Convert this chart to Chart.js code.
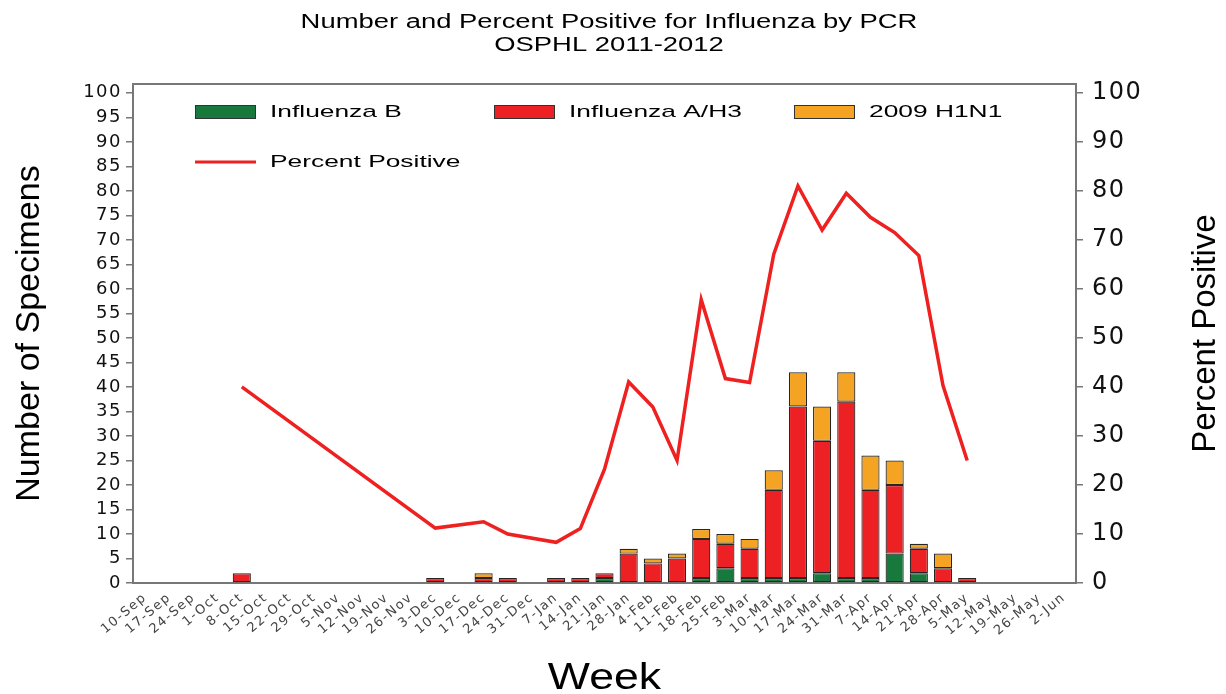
<!DOCTYPE html>
<html>
<head>
<meta charset="utf-8">
<script src="https://cdn.jsdelivr.net/npm/chart.js@4.4.0/dist/chart.umd.min.js"></script>
<style>
  html, body { margin: 0; padding: 0; background: #fff; }
  #wrap { width: 1226px; height: 694px; position: relative; }
</style>
</head>
<body>
<div id="wrap"><canvas id="c" width="1226" height="694"></canvas></div>
<script>
const weeks = ['10-Sep','17-Sep','24-Sep','1-Oct','8-Oct','15-Oct','22-Oct','29-Oct','5-Nov','12-Nov','19-Nov','26-Nov',
  '3-Dec','10-Dec','17-Dec','24-Dec','31-Dec','7-Jan','14-Jan','21-Jan','28-Jan','4-Feb','11-Feb','18-Feb','25-Feb',
  '3-Mar','10-Mar','17-Mar','24-Mar','31-Mar','7-Apr','14-Apr','21-Apr','28-Apr','5-May','12-May','19-May','26-May','2-Jun'];

const influenzaB = [null,null,null,null, null,null,null,null, null,null,null,null, null,null,null,null,
  null,null,null,1, null,null,null,1, 3,1,1,1, 2,1,1,6, 2,null,null,null, null,null,null];

const influenzaAH3 = [null,null,null,null, 2,null,null,null, null,null,null,null, 1,null,1,1,
  null,1,1,1, 6,4,5,8, 5,6,18,35, 27,36,18,14, 5,3,1,null, null,null,null];

const h1n1_2009 = [null,null,null,null, null,null,null,null, null,null,null,null, null,null,1,null,
  null,null,null,null, 1,1,1,2, 2,2,4,7, 7,6,7,5, 1,3,null,null, null,null,null];

const percentPositive = [null,null,null,null, 40.0, null,null,null,null,null,null,null,
  11.2, null, 12.5, 10.0, null, 8.3, 11.1, 23.2, 41.0, 35.9, 25.0, 57.8, 41.7, 40.9,
  67.1, 81.0, 72.0, 79.5, 74.6, 71.5, 66.8, 40.3, 25.0, null,null,null,null];

const leftTicks = [0,5,10,15,20,25,30,35,40,45,50,55,60,65,70,75,80,85,90,95,100];
const rightTicks = [0,10,20,30,40,50,60,70,80,90,100];

const titleLines = ['Number and Percent Positive for Influenza by PCR', 'OSPHL 2011-2012'];
const leftTitle = 'Number of Specimens';
const rightTitle = 'Percent Positive';
const bottomTitle = 'Week';

const GREEN = '#17793b', RED = '#ed2024', ORANGE = '#f4a322', LINE = '#ee2020';
const SANS = '"Liberation Sans", Arial, sans-serif';
const WIDE = '"DejaVu Sans", sans-serif';

function sText(ctx, text, x, y, sx, align, font) {
  ctx.save();
  ctx.font = font;
  ctx.letterSpacing = '0px';
  ctx.translate(x, y);
  ctx.scale(sx, 1);
  ctx.textAlign = align;
  ctx.textBaseline = 'middle';
  ctx.fillStyle = '#000';
  ctx.fillText(text, 0, 0);
  ctx.restore();
}

const decor = {
  id: 'decor',
  beforeDraw(chart) {
    chart.ctx.letterSpacing = '1.5px';
  },
  afterDraw(chart) {
    const ctx = chart.ctx;
    const a = chart.chartArea;
    ctx.save();
    ctx.letterSpacing = '0px';
    ctx.strokeStyle = '#777';
    ctx.lineWidth = 2;
    ctx.beginPath();
    ctx.moveTo(a.left, a.top);
    ctx.lineTo(a.right, a.top);
    ctx.stroke();
    sText(ctx, titleLines[0], 609, 22, 1.37, 'center', '20px ' + SANS);
    sText(ctx, titleLines[1], 609, 45, 1.37, 'center', '20px ' + SANS);
    ctx.save();
    ctx.translate(30, (a.top + a.bottom) / 2);
    ctx.rotate(-Math.PI / 2);
    sText(ctx, leftTitle, 0, 0, 1, 'center', '34px ' + SANS);
    ctx.restore();
    ctx.save();
    ctx.translate(1206, (a.top + a.bottom) / 2);
    ctx.rotate(-Math.PI / 2);
    sText(ctx, rightTitle, 0, 0, 1, 'center', '33px ' + SANS);
    ctx.restore();
    sText(ctx, bottomTitle, (a.left + a.right) / 2, 679, 1.24, 'center', '36px ' + SANS);
    const items = [
      {t: 'Influenza B', c: GREEN, x: 195, y: 112, type: 'box'},
      {t: 'Influenza A/H3', c: RED, x: 494, y: 112, type: 'box'},
      {t: '2009 H1N1', c: ORANGE, x: 794, y: 112, type: 'box'},
      {t: 'Percent Positive', c: LINE, x: 195, y: 162, type: 'line'}
    ];
    items.forEach(it => {
      if (it.type === 'box') {
        ctx.fillStyle = it.c;
        ctx.fillRect(it.x, it.y - 7, 61, 14);
        ctx.strokeStyle = '#333';
        ctx.lineWidth = 1;
        ctx.strokeRect(it.x + 0.5, it.y - 6.5, 60, 13);
      } else {
        ctx.strokeStyle = it.c;
        ctx.lineWidth = 3;
        ctx.beginPath();
        ctx.moveTo(it.x, it.y);
        ctx.lineTo(it.x + 61, it.y);
        ctx.stroke();
      }
      sText(ctx, it.t, it.x + 75, it.y, 1.55, 'left', '17px ' + SANS);
    });
    ctx.restore();
  }
};

const barCommon = {
  type: 'bar',
  yAxisID: 'y',
  borderColor: '#262626',
  borderWidth: 1.2,
  borderSkipped: false,
  categoryPercentage: 1.0,
  barPercentage: 0.75,
  order: 2
};

new Chart(document.getElementById('c'), {
  data: {
    labels: weeks,
    datasets: [
      {
        type: 'line', label: 'Percent Positive', data: percentPositive, yAxisID: 'y2',
        borderColor: LINE, backgroundColor: LINE, borderWidth: 3.5, pointRadius: 0,
        tension: 0, spanGaps: true, order: 1
      },
      Object.assign({}, barCommon, {label: 'Influenza B', data: influenzaB, backgroundColor: GREEN, stack: 's'}),
      Object.assign({}, barCommon, {label: 'Influenza A/H3', data: influenzaAH3, backgroundColor: RED, stack: 's'}),
      Object.assign({}, barCommon, {label: '2009 H1N1', data: h1n1_2009, backgroundColor: ORANGE, stack: 's'})
    ]
  },
  options: {
    responsive: false,
    animation: false,
    events: [],
    layout: { padding: { top: 84, left: 0, right: 0, bottom: 0 } },
    plugins: { legend: { display: false }, title: { display: false }, tooltip: { enabled: false } },
    scales: {
      x: {
        stacked: true,
        grid: { display: true, drawOnChartArea: false, drawTicks: false },
        border: { display: true, color: '#777', width: 2 },
        ticks: {
          autoSkip: false, maxRotation: 40, minRotation: 40, padding: 7,
          color: '#444', font: { family: WIDE, size: 13 }
        },
        afterFit(s) { s.height = 111; }
      },
      y: {
        position: 'left', stacked: true, min: 0, max: 101.8,
        grid: { drawOnChartArea: false, drawTicks: true, tickLength: 7, color: '#777', lineWidth: 1.5 },
        border: { display: true, color: '#777', width: 2 },
        ticks: { padding: 4, color: '#111', font: { family: WIDE, size: 18 } },
        afterBuildTicks(s) { s.ticks = leftTicks.map(v => ({ value: v })); },
        afterFit(s) { s.width = 133; }
      },
      y2: {
        position: 'right', min: 0, max: 101.8,
        grid: { drawOnChartArea: false, drawTicks: true, tickLength: 7, color: '#777', lineWidth: 1.5 },
        border: { display: true, color: '#777', width: 2 },
        ticks: { padding: 9, color: '#111', font: { family: WIDE, size: 24 } },
        afterBuildTicks(s) { s.ticks = rightTicks.map(v => ({ value: v })); },
        afterFit(s) { s.width = 150; }
      }
    }
  },
  plugins: [decor]
});
</script>
</body>
</html>
